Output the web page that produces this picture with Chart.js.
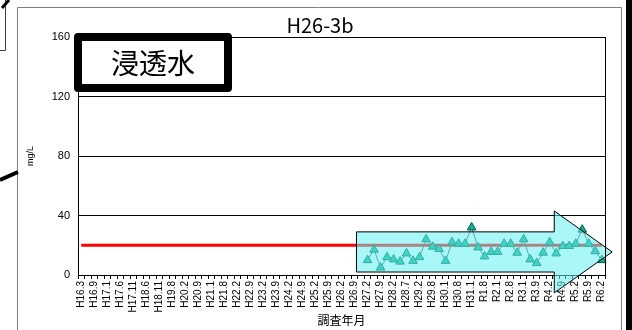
<!DOCTYPE html>
<html>
<head>
<meta charset="utf-8">
<script src="https://cdn.jsdelivr.net/npm/chart.js@4.4.1/dist/chart.umd.min.js"></script>
<style>
  html, body { margin: 0; padding: 0; background: #fff; }
</style>
</head>
<body>
<canvas id="myCanvas" width="632" height="330"></canvas>
<script>
// every other category carries a label on the axis
const tickLabels = [
  'H16.3', 'H16.9', 'H17.1', 'H17.6', 'H17.11', 'H18.6', 'H18.11', 'H19.8', 'H20.2', 'H20.9',
  'H21.1', 'H21.8', 'H22.2', 'H22.9', 'H23.2', 'H23.9', 'H24.2', 'H24.9', 'H25.2', 'H25.9',
  'H26.2', 'H26.9', 'H27.2', 'H27.9', 'H28.2', 'H28.7', 'H29.2', 'H29.8', 'H30.1', 'H30.8',
  'H31.1', 'R1.8', 'R2.1', 'R2.8', 'R3.1', 'R3.9', 'R4.2', 'R4.9', 'R5.2', 'R5.9', 'R6.2'
]

// measured values (mg/L), first one at H27.2
const firstMeasured = 'H27.2'
const measured = [
  10, 17, 5, 12, 10.5, 9, 14.5, 9.5, 12, 24,
  19, 17.5, 9.5, 22, 21, 21, 32, 18.5, 12.5, 15.5,
  15.5, 21, 21, 15, 24, 10.5, 8, 15, 22, 14.5,
  19.5, 19.5, 21, 30.5, 21, 16, 10
]

// reference level (mg/L)
const standard = 20

const yTicks = [0, 40, 80, 120, 160]

const categories = []
tickLabels.forEach((t, i) => {
  categories.push(t)
  if (i < tickLabels.length - 1) categories.push('')
})
const startIndex = categories.indexOf(firstMeasured)
const measuredData = categories.map((c, i) =>
  i >= startIndex && i - startIndex < measured.length ? measured[i - startIndex] : null)
const standardData = categories.map(() => standard)

const decor = {
  id: 'decor',
  beforeDraw(chart) {
    const ctx = chart.ctx
    ctx.save()
    ctx.fillStyle = '#fff'
    ctx.fillRect(0, 0, chart.width, chart.height)
    // outer frame
    ctx.strokeStyle = '#808080'
    ctx.lineWidth = 1
    ctx.beginPath()
    ctx.moveTo(17.5, 330)
    ctx.lineTo(17.5, 7.5)
    ctx.lineTo(621.5, 7.5)
    ctx.lineTo(621.5, 330)
    ctx.stroke()
    ctx.fillStyle = '#000'
    ctx.fillRect(626, 0, 6, 330)
    // neighbouring callout fragments
    ctx.strokeStyle = '#404040'
    ctx.beginPath()
    ctx.moveTo(5.5, 0)
    ctx.lineTo(5.5, 50.5)
    ctx.lineTo(0, 50.5)
    ctx.stroke()
    ctx.strokeStyle = '#000'
    ctx.lineWidth = 3
    ctx.beginPath()
    ctx.moveTo(2, 8)
    ctx.lineTo(9, 0)
    ctx.stroke()
    ctx.lineWidth = 4
    ctx.beginPath()
    ctx.moveTo(0, 180)
    ctx.lineTo(18, 172)
    ctx.stroke()
    ctx.restore()
  },
  afterDatasetsDraw(chart) {
    const ctx = chart.ctx
    const xs = chart.scales.x, ys = chart.scales.y
    const px = v => xs.getPixelForValue(v)
    const py = v => ys.getPixelForValue(v)
    // trend arrow (category index / mg/L units)
    const a = { from: 42.3, neck: 72.7, tip: 81.6, bodyTop: 29, bodyBottom: 2, headTop: 43, headBottom: -12 }
    const mid = (a.headTop + a.headBottom) / 2
    ctx.save()
    ctx.beginPath()
    ctx.moveTo(px(a.from), py(a.bodyTop))
    ctx.lineTo(px(a.neck), py(a.bodyTop))
    ctx.lineTo(px(a.neck), py(a.headTop))
    ctx.lineTo(px(a.tip), py(mid))
    ctx.lineTo(px(a.neck), py(a.headBottom))
    ctx.lineTo(px(a.neck), py(a.bodyBottom))
    ctx.lineTo(px(a.from), py(a.bodyBottom))
    ctx.closePath()
    ctx.fillStyle = 'rgba(100,240,240,0.55)'
    ctx.fill()
    ctx.strokeStyle = '#000'
    ctx.lineWidth = 1
    ctx.stroke()
    ctx.restore()
  },
  afterDraw(chart) {
    const ctx = chart.ctx
    const area = chart.chartArea
    ctx.save()
    // right border of the plot
    ctx.strokeStyle = '#000'
    ctx.lineWidth = 1
    ctx.beginPath()
    ctx.moveTo(Math.round(area.right) + 0.5, area.top)
    ctx.lineTo(Math.round(area.right) + 0.5, area.bottom)
    ctx.stroke()
    // title
    ctx.fillStyle = '#000'
    ctx.font = '20px "Noto Sans CJK JP"'
    ctx.textAlign = 'center'
    ctx.textBaseline = 'middle'
    ctx.fillText('H26-3b', 320, 25)
    // label box
    ctx.fillStyle = '#fff'
    ctx.fillRect(78, 37, 150, 51)
    ctx.lineWidth = 8
    ctx.lineJoin = 'round'
    ctx.strokeStyle = '#000'
    ctx.strokeRect(78, 37, 150, 51)
    ctx.fillStyle = '#000'
    ctx.font = '28px "Noto Sans CJK JP"'
    ctx.fillText('浸透水', 153, 63)
    ctx.restore()
  }
}

const context = document.getElementById('myCanvas').getContext('2d')

new Chart(context, {
  type: 'line',
  data: {
    labels: categories,
    datasets: [
      {
        label: '測定値',
        data: measuredData,
        borderColor: '#505a58',
        borderWidth: 1,
        pointStyle: 'triangle',
        pointRadius: 5,
        pointBackgroundColor: '#10b090',
        pointBorderColor: '#005a4a',
        pointBorderWidth: 1,
        fill: false,
        tension: 0,
        order: 0
      },
      {
        label: '基準',
        data: standardData,
        borderColor: '#ff0000',
        borderWidth: 3,
        pointRadius: 0,
        fill: false,
        tension: 0,
        order: 1
      }
    ]
  },
  options: {
    responsive: false,
    animation: false,
    devicePixelRatio: 1,
    layout: { padding: { left: 17, right: 27, top: 37, bottom: 0 } },
    plugins: {
      legend: { display: false },
      tooltip: { enabled: false },
      title: { display: false }
    },
    scales: {
      x: {
        offset: true,
        afterFit: s => { s.height = 55 },
        grid: {
          offset: true,
          drawOnChartArea: false,
          drawTicks: true,
          tickLength: 4,
          color: '#000'
        },
        border: { color: '#000', width: 1 },
        ticks: {
          autoSkip: false,
          maxRotation: 90,
          minRotation: 90,
          padding: 2,
          color: '#000',
          font: { family: '"Liberation Sans", Arial', size: 10 }
        },
        title: {
          display: true,
          text: '調査年月',
          color: '#000',
          padding: { top: 0, bottom: 2 },
          font: { family: '"Noto Sans CJK JP"', size: 12 }
        }
      },
      y: {
        min: 0,
        max: 160,
        afterFit: s => { s.width = 61 },
        afterBuildTicks: s => { s.ticks = yTicks.map(v => ({ value: v })) },
        grid: { color: '#000', drawTicks: false },
        border: { color: '#000', width: 1 },
        ticks: {
          padding: 8,
          color: '#000',
          font: { family: '"Liberation Sans", Arial', size: 11 }
        },
        title: {
          display: true,
          text: 'mg/L',
          color: '#000',
          padding: { top: 8, bottom: 0 },
          font: { family: '"Liberation Sans", Arial', size: 9 }
        }
      }
    }
  },
  plugins: [decor]
})
</script>
</body>
</html>
